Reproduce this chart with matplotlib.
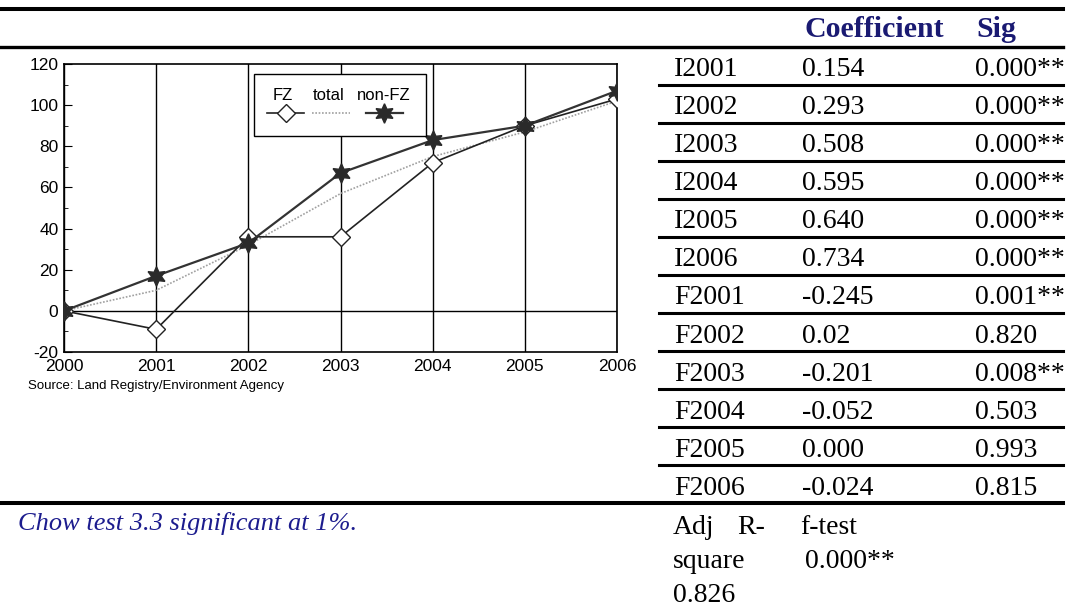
import matplotlib
matplotlib.use('Agg')
import matplotlib.pyplot as plt
from matplotlib.ticker import MultipleLocator
from matplotlib.patches import Rectangle

plt.rcParams['axes.unicode_minus'] = False

# chart data (index, 2000 = 0)
years = [2000, 2001, 2002, 2003, 2004, 2005, 2006]
fz = [0, -9, 36, 36, 72, 90, 103]
total = [0, 10, 32, 57, 75, 87, 102]
non_fz = [0, 17, 33, 67, 83, 90, 107]

# regression table
row_labels = ['I2001', 'I2002', 'I2003', 'I2004', 'I2005', 'I2006',
              'F2001', 'F2002', 'F2003', 'F2004', 'F2005', 'F2006']
coefs = ['0.154', '0.293', '0.508', '0.595', '0.640', '0.734',
         '-0.245', '0.02', '-0.201', '-0.052', '0.000', '-0.024']
sigs = ['0.000**', '0.000**', '0.000**', '0.000**', '0.000**', '0.000**',
        '0.001**', '0.820', '0.008**', '0.503', '0.993', '0.815']

W, H = 1076, 609
fig = plt.figure(figsize=(W / 100, H / 100), dpi=100)

sans = 'Liberation Sans'
serif = 'Liberation Serif'
star = (6, 1, 0)

# ---- chart ----
ax = fig.add_axes([64 / W, 1 - 352 / H, 553 / W, 288 / H])
ax.set_xlim(2000, 2006)
ax.set_ylim(-20, 120)
ax.grid(axis='x', color='black', lw=1)
ax.axhline(0, color='black', lw=1)
ax.plot(years, total, color='#a0a0a0', lw=1.2, ls=(0, (1, 1)), zorder=3)
ax.plot(years, fz, color='#222222', lw=1.2, marker='D', ms=9.5,
        mfc='white', mec='#222222', mew=1, zorder=4)
ax.plot(years, non_fz, color='#333333', lw=1.6, marker=star, ms=14,
        mfc='#2a2a2a', mec='#2a2a2a', zorder=5)
ax.set_xticks(years)
ax.yaxis.set_major_locator(MultipleLocator(20))
ax.yaxis.set_minor_locator(MultipleLocator(10))
ax.tick_params(axis='y', which='major', direction='in', length=6, pad=4,
               labelsize=12.5)
ax.tick_params(axis='y', which='minor', direction='in', length=3)
ax.tick_params(axis='x', length=0, pad=5, labelsize=12.5)
for lab in ax.get_xticklabels() + ax.get_yticklabels():
    lab.set_family(sans)
for s in ax.spines.values():
    s.set_linewidth(1.2)

# ---- overlay in pixel coordinates ----
ov = fig.add_axes([0, 0, 1, 1])
ov.set_xlim(0, W)
ov.set_ylim(H, 0)
ov.axis('off')

# legend (labels above the keys)
ov.add_patch(Rectangle((254, 74), 172, 62, fc='white', ec='black', lw=1, zorder=5))
for x, t in [(283, 'FZ'), (329, 'total'), (384, 'non-FZ')]:
    ov.text(x, 95, t, ha='center', va='center', fontsize=12, family=sans, zorder=6)
ov.plot([267, 304], [113, 113], color='#222222', lw=1.2, zorder=6)
ov.plot([286], [113], marker='D', ms=9.5, mfc='white', mec='#222222', zorder=7)
ov.plot([312, 350], [113, 113], color='#a0a0a0', lw=1.2, ls=(0, (1, 1)), zorder=6)
ov.plot([366, 403], [113, 113], color='#333333', lw=1.6, zorder=6)
ov.plot([384], [113], marker=star, ms=14, mfc='#2a2a2a', mec='#2a2a2a', zorder=7)

ov.text(28, 386, 'Source: Land Registry/Environment Agency', fontsize=9.5,
        family=sans, va='center')

# table rules
ov.plot([0, 1063], [8.7, 8.7], color='black', lw=2.9)
ov.plot([0, 1063], [46.7, 46.7], color='black', lw=2.4)
ov.plot([0, 1063], [503, 503], color='black', lw=2.9)
step = (503 - 84.5) / 11
for i in range(11):
    y = 84.5 + i * step
    ov.plot([659, 1063], [y, y], color='black', lw=2.2)

navy = '#1a1a72'
ov.text(805, 37, 'Coefficient', fontsize=21.5, family=serif, weight='bold',
        color=navy, va='baseline')
ov.text(976, 37, 'Sig', fontsize=21.5, family=serif, weight='bold',
        color=navy, va='baseline')

for i, (lab, c, s) in enumerate(zip(row_labels, coefs, sigs)):
    base = 84.5 + i * step - 8.3
    ov.text(674, base, lab, fontsize=20, family=serif, va='baseline')
    ov.text(802, base, c, fontsize=20, family=serif, va='baseline')
    ov.text(975, base, s, fontsize=20, family=serif, va='baseline')

ov.text(18, 530, 'Chow test 3.3 significant at 1%.', fontsize=19,
        family=serif, style='italic', color='#1c1c8e', va='baseline')
ov.text(673, 534, 'Adj', fontsize=20, family=serif, va='baseline')
ov.text(737, 534, 'R-', fontsize=20, family=serif, va='baseline')
ov.text(673, 568, 'square', fontsize=20, family=serif, va='baseline')
ov.text(673, 602, '0.826', fontsize=20, family=serif, va='baseline')
ov.text(800, 534, 'f-test', fontsize=20, family=serif, va='baseline')
ov.text(805, 568, '0.000**', fontsize=20, family=serif, va='baseline')

fig.savefig('out.png', dpi=100)
